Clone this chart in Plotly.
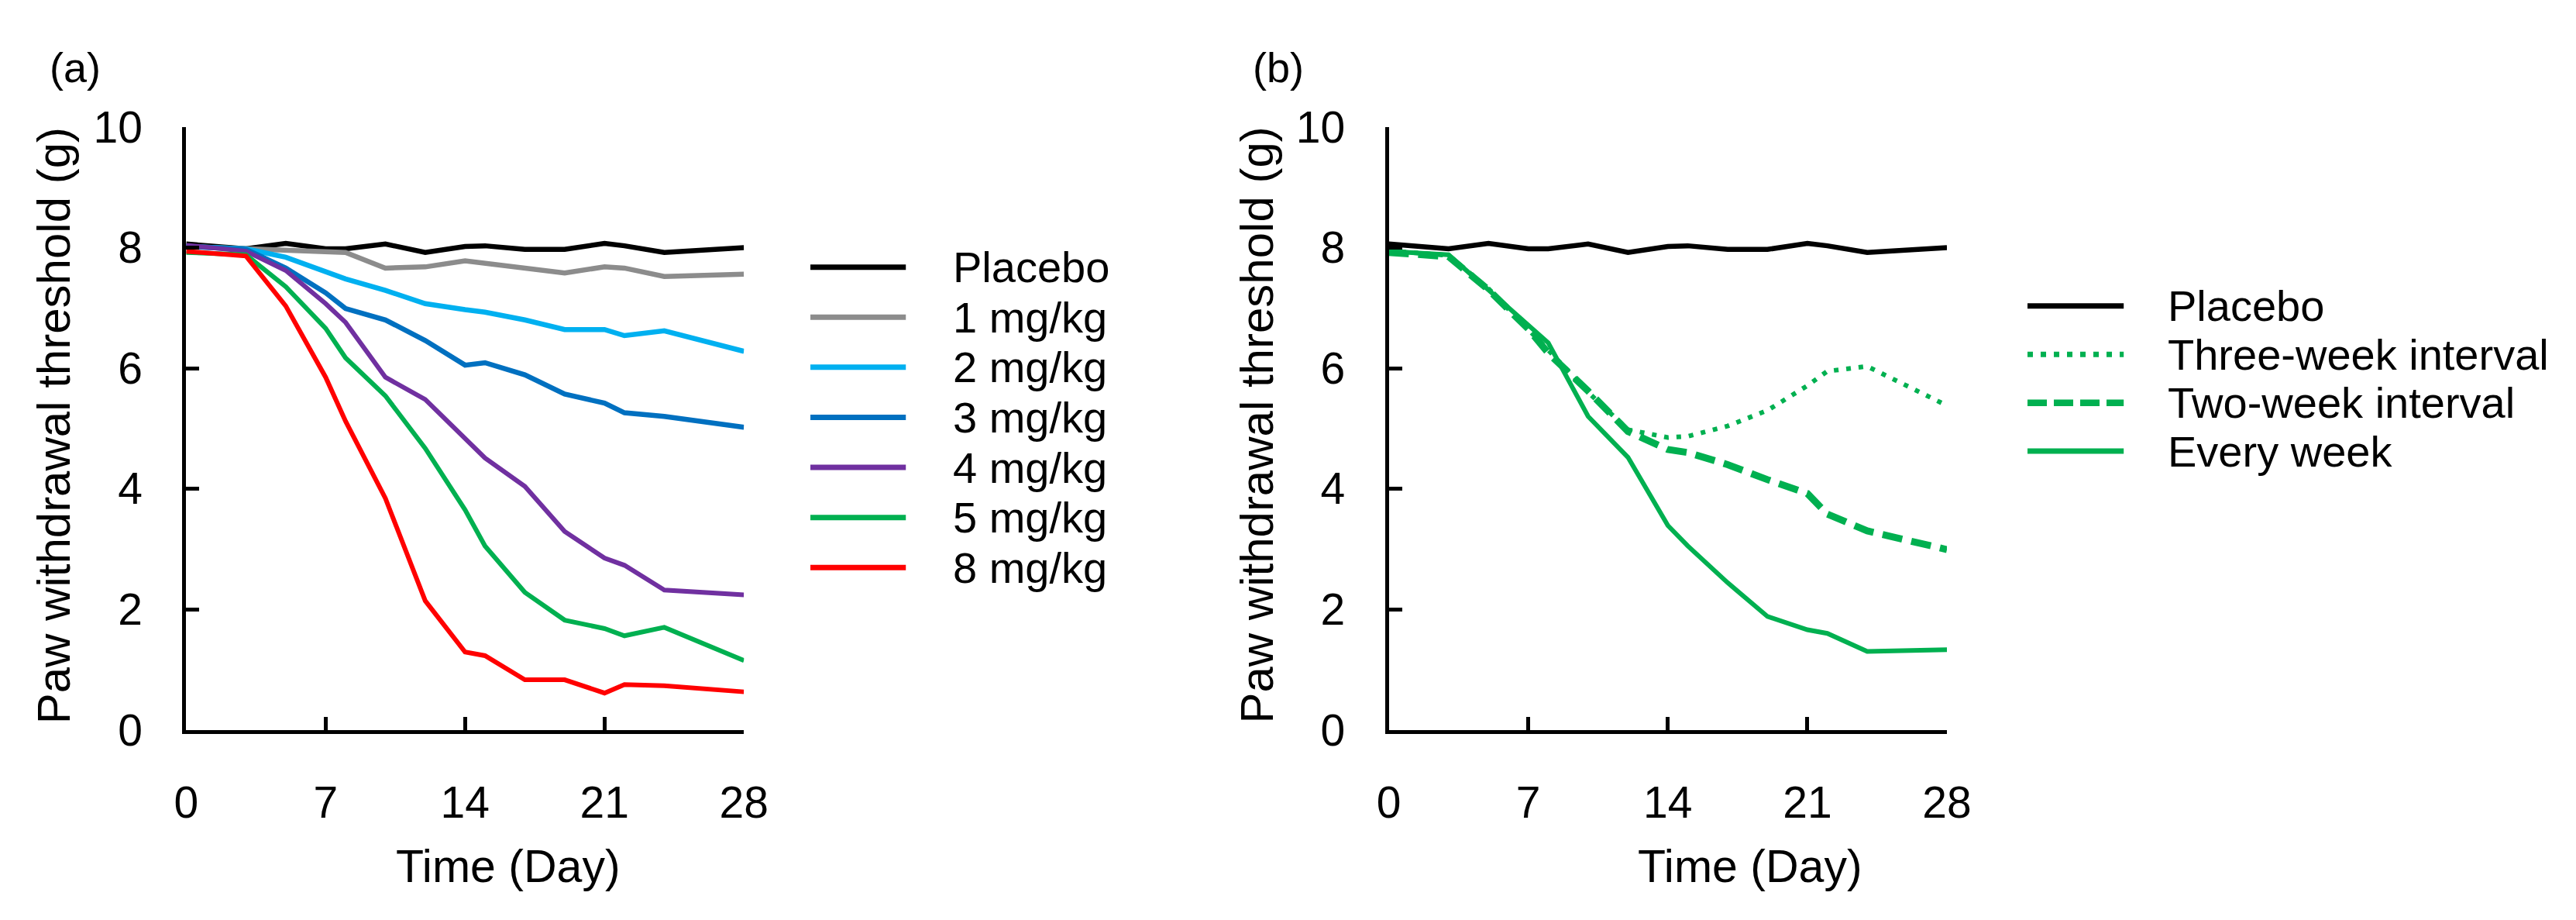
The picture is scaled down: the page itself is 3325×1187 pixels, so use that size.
import plotly.graph_objects as go

# Days on which the threshold was measured
days = [0, 3, 5, 7, 8, 10, 12, 14, 15, 17, 19, 21, 22, 24, 28]

# Panel (a): single doses
placebo = [8.06, 7.98, 8.07, 7.98, 7.98, 8.06, 7.92, 8.02, 8.03, 7.97, 7.97, 8.07, 8.03, 7.92, 8.00]
dose_1 = [8.02, 7.98, 7.95, 7.93, 7.92, 7.66, 7.68, 7.78, 7.74, 7.68, 7.58, 7.68, 7.66, 7.52, 7.56]
dose_2 = [8.02, 7.98, 7.84, 7.60, 7.48, 7.29, 7.07, 6.97, 6.93, 6.80, 6.64, 6.64, 6.54, 6.62, 6.28]
dose_3 = [8.02, 7.97, 7.66, 7.25, 6.99, 6.80, 6.46, 6.05, 6.09, 5.89, 5.57, 5.42, 5.26, 5.20, 5.02]
dose_4 = [8.04, 7.94, 7.62, 7.07, 6.76, 5.85, 5.48, 4.82, 4.51, 4.04, 3.29, 2.85, 2.73, 2.32, 2.24]
dose_5 = [7.92, 7.88, 7.35, 6.66, 6.17, 5.54, 4.67, 3.65, 3.05, 2.28, 1.82, 1.68, 1.56, 1.70, 1.15]
dose_8 = [7.94, 7.86, 7.03, 5.85, 5.12, 3.84, 2.14, 1.29, 1.23, 0.83, 0.83, 0.61, 0.75, 0.73, 0.63]

# Panel (b): dosing intervals
three_week = [7.95, 7.87, 7.32, 6.65, 6.30, 5.60, 4.98, 4.85, 4.87, 5.04, 5.30, 5.71, 5.95, 6.03, 5.38]
two_week = [7.92, 7.85, 7.30, 6.65, 6.25, 5.62, 4.95, 4.65, 4.60, 4.40, 4.15, 3.92, 3.58, 3.30, 2.99]
every_week = [7.94, 7.88, 7.30, 6.70, 6.42, 5.20, 4.52, 3.39, 3.05, 2.44, 1.88, 1.66, 1.60, 1.30, 1.33]

x_ticks = [0, 7, 14, 21, 28]
y_ticks = [0, 2, 4, 6, 8, 10]

W, H = 3325, 1187
FONT = 'Liberation Sans, Arial, sans-serif'

series_a = [
    ('Placebo', placebo, '#000000', 6.5, 'solid'),
    ('1 mg/kg', dose_1, '#8c8c8c', 6.5, 'solid'),
    ('2 mg/kg', dose_2, '#00b0f0', 6.5, 'solid'),
    ('3 mg/kg', dose_3, '#0070c0', 6.5, 'solid'),
    ('4 mg/kg', dose_4, '#7030a0', 6, 'solid'),
    ('5 mg/kg', dose_5, '#00b050', 6, 'solid'),
    ('8 mg/kg', dose_8, '#ff0000', 6, 'solid'),
]
series_b = [
    ('Placebo', placebo, '#000000', 6.5, 'solid'),
    ('Three-week interval', three_week, '#00b050', 6, '6px,10px'),
    ('Two-week interval', two_week, '#00b050', 9, '26px,12px'),
    ('Every week', every_week, '#00b050', 6, 'solid'),
]

fig = go.Figure()

for name, vals, color, width, dash in series_a:
    fig.add_trace(go.Scatter(x=days, y=vals, mode='lines', name=name,
                             line=dict(color=color, width=width, dash=dash),
                             xaxis='x', yaxis='y', showlegend=False))
for name, vals, color, width, dash in series_b:
    fig.add_trace(go.Scatter(x=days, y=vals, mode='lines', name=name,
                             line=dict(color=color, width=width, dash=dash),
                             xaxis='x2', yaxis='y2', showlegend=False))

# Hand-made legends (long line samples like the original)
shapes = []
annotations = []
legend_specs = [
    (series_a, 1037, 1162, 1222, 322, 68.3),
    (series_b, 2631, 2757, 2813, 375, 66.0),
]
legend_dash = {'6px,10px': '7px,10px', '26px,12px': '25px,9px'}
legend_width = {'6px,10px': 7, '26px,12px': 8.5}
for series, lx0, lx1, tx, top, step in legend_specs:
    for i, (name, vals, color, width, dash) in enumerate(series):
        yy = 1 - (top + i * step) / H
        shapes.append(dict(type='line', xref='paper', yref='paper',
                           x0=lx0 / W, x1=lx1 / W, y0=yy, y1=yy,
                           line=dict(color=color, width=legend_width.get(dash, 7),
                                     dash=legend_dash.get(dash, 'solid'))))
        annotations.append(dict(text=name, xref='paper', yref='paper',
                                x=tx / W, y=yy, xanchor='left', yanchor='middle',
                                showarrow=False, font=dict(size=56, color='black', family=FONT)))

# Panel letters and axis titles
for label, px in [('(a)', 39), ('(b)', 1614)]:
    annotations.append(dict(text=label, xref='paper', yref='paper', x=px / W, y=1 - 50 / H,
                            xanchor='left', yanchor='middle', showarrow=False,
                            font=dict(size=54, color='black', family=FONT)))
for cx in [641, 2268]:
    annotations.append(dict(text='Time (Day)', xref='paper', yref='paper', x=cx / W, y=1 - 1139 / H,
                            xanchor='center', yanchor='middle', showarrow=False,
                            font=dict(size=59, color='black', family=FONT)))
for cx in [47, 1622]:
    annotations.append(dict(text='Paw withdrawal threshold (g)', xref='paper', yref='paper',
                            x=cx / W, y=1 - 538 / H, textangle=-90,
                            xanchor='center', yanchor='middle', showarrow=False,
                            font=dict(size=60, color='black', family=FONT)))

axis_style = dict(showline=True, linecolor='black', linewidth=5, showgrid=False, zeroline=False,
                  ticks='inside', ticklen=17, tickwidth=5, tickcolor='black',
                  tickfont=dict(size=57, color='black', family=FONT), ticklabelstandoff=40)

y_domain = [1 - 953 / H, 1 - 131 / H]

fig.update_layout(
    width=W, height=H,
    margin=dict(l=0, r=0, t=0, b=0),
    paper_bgcolor='white', plot_bgcolor='white',
    showlegend=False,
    xaxis=dict(domain=[219.5 / W, 950 / W], range=[0, 28], tickvals=x_ticks, anchor='y', **axis_style),
    yaxis=dict(domain=y_domain, range=[0, 10], tickvals=y_ticks, anchor='x', **axis_style),
    xaxis2=dict(domain=[1794.5 / W, 2525.5 / W], range=[0, 28], tickvals=x_ticks, anchor='y2', **axis_style),
    yaxis2=dict(domain=y_domain, range=[0, 10], tickvals=y_ticks, anchor='x2', **axis_style),
    shapes=shapes,
    annotations=annotations,
)

fig.write_html("out.html")
